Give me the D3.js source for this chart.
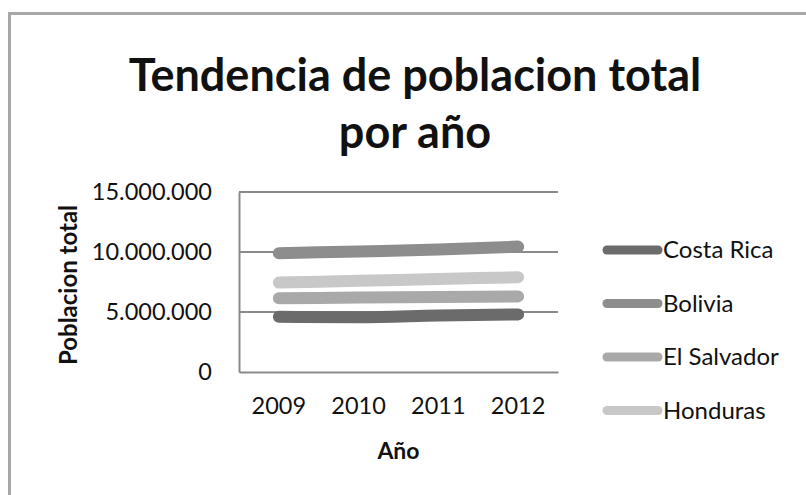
<!DOCTYPE html>
<html lang="es">
<head>
  <meta charset="UTF-8">
  <title>Tendencia de poblacion total por año</title>
  <style>
    body {
      margin: 0;
      background: #fff;
      font-family: Lato, "Open Sans", sans-serif;
    }
    svg { display: block; }
  </style>
</head>
<body>
  <script src="https://d3js.org/d3.v7.min.js"></script>
  <script>
    const years = ['2009', '2010', '2011', '2012'];
    const countries = ['Costa Rica', 'Bolivia', 'El Salvador', 'Honduras'];
    const costaRica = [4600000, 4560000, 4700000, 4800000];
    const bolivia = [9900000, 10050000, 10200000, 10450000];
    const elSalvador = [6150000, 6200000, 6250000, 6300000];
    const honduras = [7450000, 7600000, 7750000, 7900000];
    const yTicks = [0, 5000000, 10000000, 15000000];
    const colors = ['#6b6b6b', '#8d8d8d', '#a9a9a9', '#c8c8c8'];

    const seriesValues = [costaRica, bolivia, elSalvador, honduras];

    const width = 806;
    const height = 495;
    const plot = { left: 239, right: 558, top: 192, bottom: 372 };

    const svg = d3.select('body')
      .append('svg')
      .attr('width', width)
      .attr('height', height);

    // chart frame (only top and left edges are in view)
    svg.append('path')
      .attr('d', `M9.5,${height} V13.5 H${width}`)
      .attr('fill', 'none')
      .attr('stroke', '#a8a8a8')
      .attr('stroke-width', 3);

    const x = d3.scaleBand()
      .domain(years)
      .range([plot.left, plot.right]);

    const y = d3.scaleLinear()
      .domain([0, 15000000])
      .range([plot.bottom, plot.top]);

    const fmt = v => d3.format(',')(v).replace(/,/g, '.');

    // gridlines
    svg.append('g')
      .selectAll('line')
      .data(yTicks.slice(1))
      .enter().append('line')
        .attr('x1', plot.left)
        .attr('x2', plot.right)
        .attr('y1', d => y(d))
        .attr('y2', d => y(d))
        .attr('stroke', '#8a8a8a')
        .attr('stroke-width', 2);

    // y axis
    const yAxis = svg.append('g')
      .attr('transform', `translate(${plot.left},0)`)
      .call(d3.axisLeft(y).tickValues(yTicks).tickFormat(fmt).tickSize(0).tickPadding(27));
    yAxis.select('.domain').attr('stroke', '#8a8a8a').attr('stroke-width', 2);
    yAxis.selectAll('text')
      .attr('font-family', 'Lato, sans-serif')
      .attr('font-size', 23.5)
      .attr('fill', '#111');

    // x axis
    const xAxis = svg.append('g')
      .attr('transform', `translate(0,${plot.bottom})`)
      .call(d3.axisBottom(x).tickSize(0).tickPadding(25));
    xAxis.select('.domain').attr('stroke', '#8a8a8a').attr('stroke-width', 2);
    xAxis.selectAll('text')
      .attr('font-family', 'Lato, sans-serif')
      .attr('font-size', 23.5)
      .attr('fill', '#111');

    // series lines
    const line = d3.line()
      .x((d, i) => x(years[i]) + x.bandwidth() / 2)
      .y(d => y(d))
      .curve(d3.curveMonotoneX);

    svg.append('g')
      .selectAll('path')
      .data(seriesValues)
      .enter().append('path')
        .attr('d', d => line(d))
        .attr('fill', 'none')
        .attr('stroke', (d, i) => colors[i])
        .attr('stroke-width', 12)
        .attr('stroke-linecap', 'round');

    // legend
    const legend = svg.append('g')
      .selectAll('g')
      .data(countries)
      .enter().append('g')
        .attr('transform', (d, i) => `translate(603,${250 + i * 53.5})`);

    legend.append('line')
      .attr('x1', 4)
      .attr('x2', 55)
      .attr('stroke', (d, i) => colors[i])
      .attr('stroke-width', 9)
      .attr('stroke-linecap', 'round');

    legend.append('text')
      .attr('x', 60)
      .attr('dy', '0.35em')
      .attr('font-size', 24)
      .attr('fill', '#111')
      .text(d => d);

    // titles
    const title = svg.append('text')
      .attr('text-anchor', 'middle')
      .attr('font-weight', 'bold')
      .attr('font-size', 45)
      .attr('fill', '#111');
    title.append('tspan').attr('x', 415).attr('y', 91).text('Tendencia de poblacion total');
    title.append('tspan').attr('x', 415).attr('y', 148).text('por año');

    svg.append('text')
      .attr('x', (plot.left + plot.right) / 2)
      .attr('y', 459)
      .attr('text-anchor', 'middle')
      .attr('font-weight', 'bold')
      .attr('font-size', 23)
      .attr('fill', '#111')
      .text('Año');

    svg.append('text')
      .attr('transform', 'translate(77,285) rotate(-90)')
      .attr('text-anchor', 'middle')
      .attr('font-weight', 'bold')
      .attr('font-size', 24)
      .attr('fill', '#111')
      .text('Poblacion total');
  </script>
</body>
</html>
